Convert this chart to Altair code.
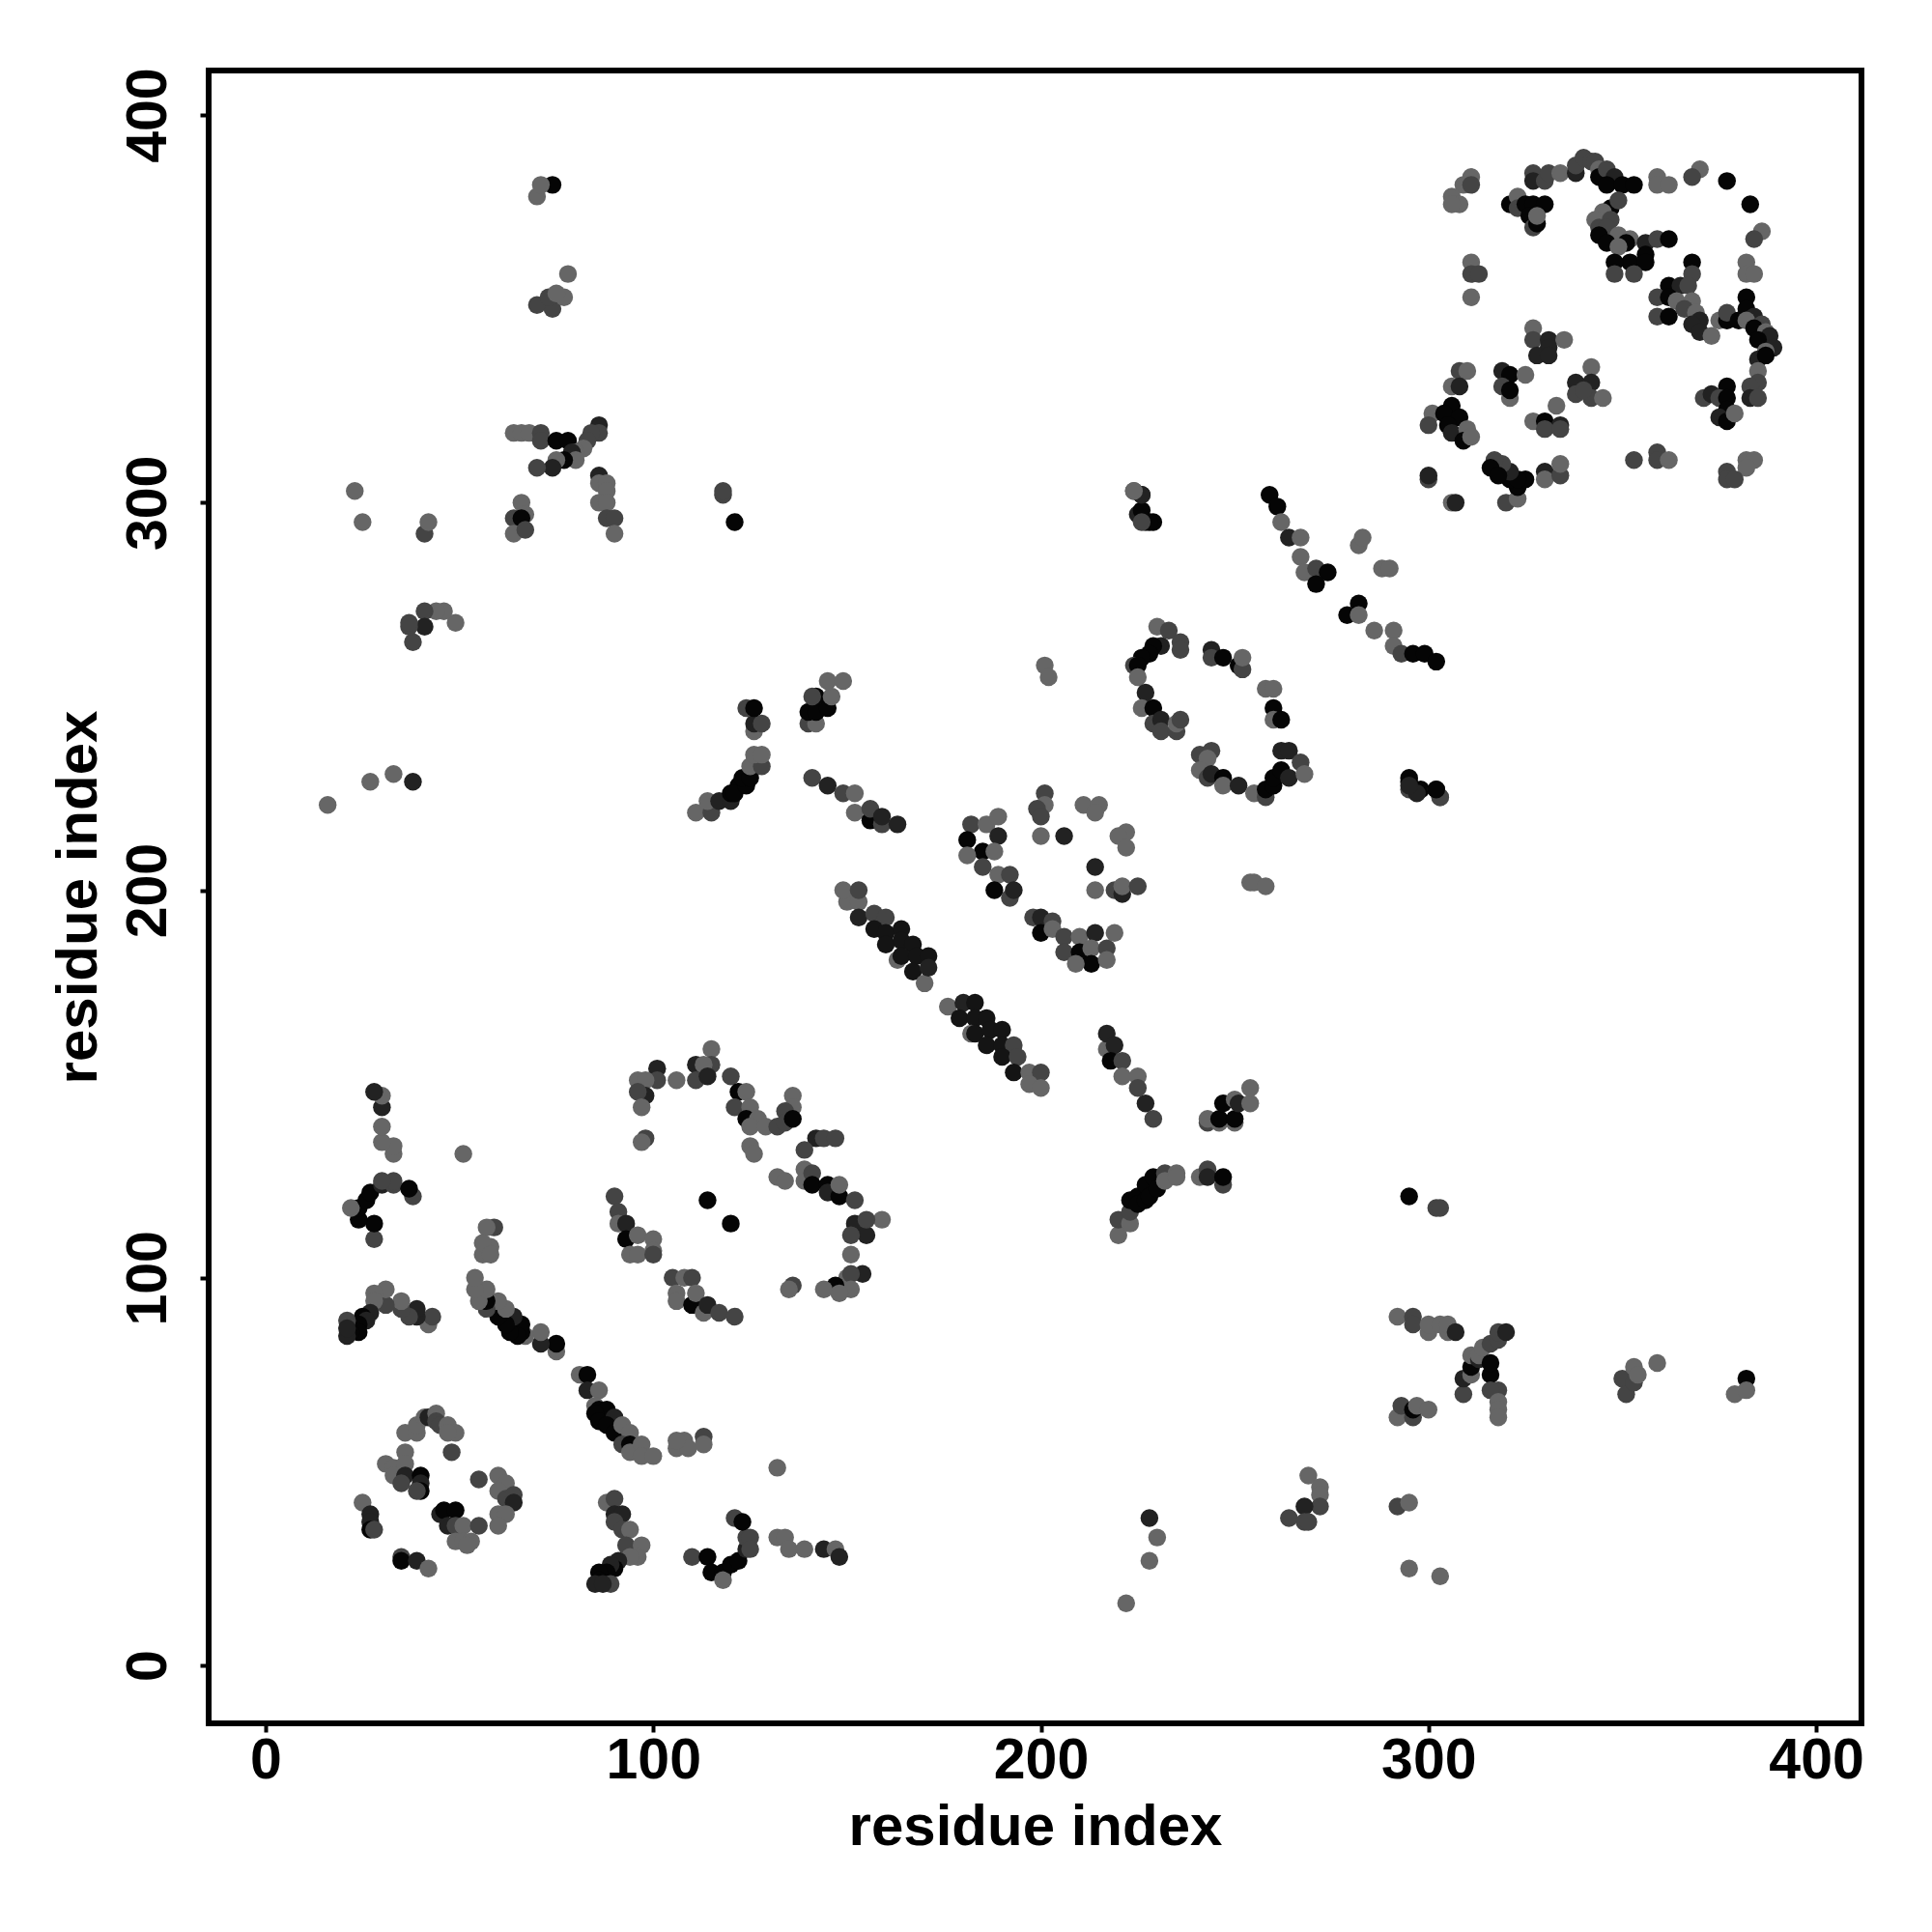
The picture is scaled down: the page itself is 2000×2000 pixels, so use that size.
import altair as alt
import pandas as pd

# (residue x, residue y, grey level)
ring_a = [(25,42,3),(27,39,1),(27,37,1),(27,35,0),(28,35,2),(35,28,2),(35,27,0),(39,27,1),(42,25,3),
 (36,55,3),(48,55,2),(36,60,3),(39,60,3),(39,62,3),(41,64,3),(42,64,1),(44,65,3),(44,63,2),(45,62,2),(47,62,3),
 (49,60,3),(47,60,3),(31,52,3),(33,51,3),(33,49,3),(36,52,3),(36,49,1),(35,47,2),(40,49,0),(40,47,1),(40,45,0),(39,45,2),
 (55,48,2),(60,49,3),(62,47,3),(60,45,3),(62,43,2),(64,44,2),(64,42,1),(60,39,3),(62,39,3),(60,36,3),
 (45,39,1),(46,40,0),(49,40,0),(47,36,1),(49,36,2),(51,36,3),(55,36,2),(49,32,3),(51,32,3),(53,32,3),(52,31,3)]

ring_b = [(115,159,3),(111,155,1),(115,155,2),(113,155,3),(101,154,1),(120,152,2),(96,151,3),(101,151,2),(98,151,3),(106,151,3),
 (111,151,2),(114,152,1),(122,148,0),(124,148,3),(98,147,1),(96,148,2),(97,144,3),(136,147,3),(136,144,3),(134,143,2),(121,144,2),
 (125,144,3),(124,141,0),(127,141,3),(125,139,3),(129,139,3),(132,139,2),(134,140,2),(136,141,0),(98,136,2),(97,135,3),(125,134,3),
 (126,132,3),(132,126,3),(134,125,3),(142,136,1),(144,136,2),(147,136,2),(139,133,2),(139,128,3),(139,125,3),(141,127,2),(141,124,0),
 (145,124,0),(145,122,1),(148,121,0),(148,124,3),(152,120,2),(159,115,3),(152,114,1),(155,111,1),(155,115,2),(151,111,2),(151,106,3),
 (150,100,3),(154,101,1),(151,101,2),(151,97,3),(147,98,0),(148,96,3),(144,97,3),(136,98,2),(135,97,3),(90,121,2),(91,117,2),
 (91,114,3),(93,114,1),(93,110,0),(96,111,3),(100,110,3),(100,107,3),(94,106,3),(96,106,3),(100,106,2),(105,100,2),(108,100,3),(110,100,2),
 (106,96,3),(106,94,3),(110,93,0),(111,96,3),(113,91,3),(114,93,1),(117,91,2),(121,90,2),(114,120,0),(120,114,0)]

ring_c = [(201,258,3),(202,255,3),(201,225,2),(201,222,3),(199,221,2),(200,219,2),(211,222,3),(215,222,3),(214,220,3),(222,215,3),
 (220,214,3),(222,211,3),(200,214,3),(206,214,1),(214,206,1),(214,200,3),(219,200,2),(221,199,1),(221,201,3),(225,201,2),
 (182,217,2),(186,217,3),(189,219,3),(181,213,0),(189,214,1),(185,210,0),(181,209,3),(188,210,3),(185,206,2),(189,204,3),(192,204,2),
 (188,200,0),(192,198,2),(193,200,1),(198,193,2),(200,193,1),(203,192,2),(200,189,0),(203,190,3),(206,188,2),(206,184,2),(210,188,3),
 (214,189,1),(219,189,3),(210,184,0),(213,185,3),(217,185,2),(213,181,0),(209,181,3),(217,182,3)]

ring_d = [(230,268,3),(233,267,2),(236,264,2),(236,262,2),(231,263,1),(229,263,0),(228,261,0),(226,260,0),(224,258,2),(225,258,0),(225,255,3),
 (227,251,1),(226,247,3),(229,247,0),(229,243,2),(231,244,1),(231,241,2),(235,241,2),(235,243,3),(236,244,2),(244,262,1),(244,260,2),
 (247,260,0),(251,258,0),(252,257,2),(252,260,3),(258,252,3),(260,252,3),(260,247,0),(260,244,3),(262,244,0),(241,235,2),(244,236,2),(243,234,3),
 (241,231,3),(243,229,2),(244,230,1),(247,229,0),(247,227,3),(251,227,1),(255,225,3),(258,224,2),(258,226,0),(260,227,0),(260,229,0),(262,231,0),
 (264,229,1),(262,236,1),(264,236,1),(267,233,2),(268,230,3),(254,202,3),(255,202,3),(258,201,3)]

ring_e = [(311,384,3),(309,382,3),(311,382,2),(306,379,3),(308,377,3),(306,377,3),(311,362,3),(311,359,2),(313,359,2),(311,353,3),
 (327,385,2),(327,383,1),(330,383,2),(331,385,2),(334,385,3),(338,385,1),(338,387,2),(340,389,2),(342,388,2),(343,388,2),(344,386,3),(344,384,0),(346,386,2),
 (348,384,1),(346,382,0),(350,382,0),(353,382,0),(359,384,3),(359,382,3),(362,382,3),(370,386,3),(368,384,2),(377,383,0),(383,377,0),(386,370,3),(384,368,2),
 (321,377,0),(323,379,3),(323,376,2),(325,377,0),(327,377,0),(330,377,0),(326,374,0),(327,371,2),(328,372,0),(328,374,3),
 (347,376,0),(349,378,2),(345,375,3),(343,373,3),(347,373,2),(344,371,2),(346,371,2),(344,369,0),(349,369,3),(346,367,0),(352,368,3),(351,367,0),(349,366,3),
 (356,367,1),(359,368,2),(362,368,0),(356,364,0),(352,362,0),(348,362,0),(356,362,0),(348,359,2),(353,359,2),(382,362,3),(382,359,3),(384,359,3),
 (368,362,0),(368,359,2),(362,356,0),(365,356,1),(367,356,2),(359,353,2),(362,353,0),(364,352,3),(368,352,3),(366,350,2),(359,348,2),(362,348,0),(369,349,3),
 (370,347,1),(368,346,1),(370,344,1),(373,343,3),(375,347,3),(377,347,0),(377,349,2),(382,353,0),(382,350,0),(380,347,0),(384,348,1),(382,347,3),(386,346,2),
 (384,345,0),(387,344,3),(388,343,1),(385,342,0),(389,340,1),(387,339,3),(385,337,1),(387,338,0),(385,334,3),(385,331,2),(383,330,2),(383,327,1),(385,327,2),
 (327,345,3),(327,342,2),(331,342,1),(335,342,3),(331,340,1),(328,338,1),(331,338,1),(342,335,3),(338,331,1),(342,331,1),(338,328,2),(342,327,2),(345,327,3),(340,329,2),
 (308,334,2),(310,334,3),(306,330,3),(308,330,1),(319,334,1),(321,333,0),(319,330,2),(321,327,3),(321,329,0),(325,333,3),(333,325,3),(327,321,3),(330,321,0),(334,320,1),
 (330,319,2),(334,319,2),(377,330,0),(371,327,2),(373,328,1),(375,327,2),(377,327,0),(377,324,0),(375,322,1),(377,321,0),(379,323,3),
 (301,323,3),(306,325,0),(304,323,0),(300,320,2),(308,322,0),(305,320,0),(306,318,1),(310,319,3),(309,316,0),(311,317,3),
 (300,306,2),(300,307,1),(306,300,3),(307,300,1),(320,300,2),(323,301,3),(323,304,0),(325,306,0),(321,306,0),(323,306,0),(321,308,1),(319,310,2),(317,311,2),(316,309,0),(318,307,0),
 (330,308,1),(330,306,3),(334,307,2),(334,310,3),(353,311,2),(359,313,2),(359,311,2),(362,311,3),(382,311,3),(384,311,3),(382,309,3),(377,308,2),(377,306,2),(379,306,2)]

sheet_main = [(150,197,3),(149,200,3),(153,197,3),(153,200,2),(153,193,1),(157,194,2),(160,193,2),(157,190,4),(160,189,4),(164,190,4),(160,186,4),(164,187,4),(167,186,4),
 (163,182,3),(164,183,4),(168,183,4),(171,183,4),(167,179,4),(170,176,3),(171,180,1),(176,170,3),(180,171,1),(183,171,4),(179,167,4),(183,167,4),(186,167,4),
 (182,163,3),(183,163,4),(187,164,4),(190,164,4),(186,160,4),(190,160,4),(193,160,2),(190,157,4),(194,157,2),(193,153,4),(197,153,3),(200,153,2),(197,150,3),(200,149,3)]

sheet_d = [(259,302,0),(261,299,0),(262,295,3),(264,291,1),(267,291,3),(267,286,3),(268,282,3),(271,283,2),(274,282,0),(271,279,0),(279,271,0),(282,274,0),(282,271,3),(286,267,3),
 (282,289,3),(283,291,3),(288,283,3),(290,283,3),(291,267,3),(291,263,3),(293,261,2),(296,261,0),(299,261,0),(302,259,0)]

# off-diagonal clusters, lower triangle
low_a = [(88,42,3),(90,43,2),(90,39,1),(92,39,1),(90,37,2),(92,35,2),(94,35,3),(93,31,2),(97,31,3),(96,28,3),(94,28,3),(91,27,1),(90,25,0),(89,26,1),(88,24,0),(86,24,0),(86,22,0),(85,21,1),(89,21,2),(87,21,1)]
low_b = [(81,75,3),(83,75,0),(83,71,1),(86,71,3),(85,67,3),(86,66,0),(88,66,0),(85,65,0),(86,63,0),(90,64,1),(88,62,0),(90,60,0),(92,62,3),(94,60,3),(92,57,2),(94,57,0),(94,55,3),(97,57,3),(97,54,3),(100,54,3)]
low_c = [(106,56,3),(108,58,3),(113,59,2),(113,57,3),(109,56,3),(106,58,3)]
low_d = [(110,28,2),(114,28,0),(115,24,0),(118,24,0),(118,22,3),(120,26,0),(122,27,0),(124,30,1),(124,33,2),(121,38,2),(123,37,0),(125,33,2),(125,30,2),(132,51,3),(132,33,3),(134,33,3),(135,30,3),(139,30,3),(144,30,1),(147,30,3),(148,28,1)]
low_e = [(217,159,3),(217,163,1),(219,160,1),(218,156,0),(221,156,2),(221,152,3),(225,152,3),(225,149,2),(227,145,1),(229,141,2)]
low_f = [(220,111,3),(220,115,2),(223,114,3),(223,117,2),(223,120,0),(225,121,0),(225,119,0),(227,124,0),(227,120,0),(228,121,0),(229,126,0),(230,123,0),(232,127,2),(232,125,3),(235,127,3),(235,126,3),(241,126,3),(243,128,2),(243,126,1),(247,124,2),(247,126,0)]
low_h = [(224,303,2),(226,302,0),(225,297,1),(229,295,0),(227,295,1),(295,228,0),(298,226,0),(302,226,1),(303,224,3),(295,226,2)]
low_i = [(295,121,0),(302,118,2),(303,118,2),(222,16,3),(228,38,1),(230,33,3),(228,27,3),(269,49,3),(272,46,3),(272,44,3),(272,41,2),(268,41,1),(264,38,2),(268,37,2),(269,37,2),
 (292,41,2),(295,42,3),(295,25,3),(303,23,3)]
low_j = [(292,64,3),(293,67,2),(296,64,2),(296,66,0),(297,67,3),(300,66,3),(292,90,3),(296,90,2),(296,88,2),(300,86,3),(300,88,3),(303,88,3),(305,86,3),(305,88,3),(307,86,1),(309,70,2),(309,74,1),
 (311,75,3),(311,77,0),(311,80,3),(313,79,1),(313,80,3),(314,82,3),(316,83,2),(316,75,0),(316,78,0),(318,84,2),(318,86,2),(320,86,1),(318,71,2),(316,71,2),(318,68,3),(318,66,3),(318,64,3)]
low_k = [(350,74,2),(351,70,2),(353,77,3),(353,73,2),(359,78,3),(354,75,3),(379,70,3),(382,74,0),(382,71,3)]
low_l = [(243,140,2),(246,140,3),(250,140,3),(243,141,3),(246,141,0),(250,141,0),(247,145,0),(250,146,3),(251,145,1),(254,145,3),(254,149,3)]

# the same contacts, upper triangle
up_a = [(42,88,3),(43,90,2),(39,90,1),(39,92,1),(37,90,2),(35,92,2),(35,94,3),(31,93,2),(31,97,3),(28,96,3),(28,94,3),(27,91,1),(25,90,0),(26,89,1),(24,88,0),(24,86,0),(22,86,0),(21,85,1),(21,89,2),(21,87,1)]
up_b = [(75,81,3),(75,83,0),(71,83,1),(71,86,3),(67,85,3),(66,86,0),(66,88,0),(65,85,0),(63,86,0),(64,90,1),(62,88,0),(60,90,0),(62,92,3),(60,94,3),(57,92,2),(57,94,0),(55,94,3),(57,97,3),(54,97,3),(54,100,3)]
up_c = [(56,106,3),(58,108,3),(59,113,2),(57,113,3),(56,109,3),(58,106,3)]
up_d = [(28,110,2),(28,114,0),(24,115,0),(24,118,0),(22,118,3),(26,120,0),(27,122,0),(30,124,1),(33,124,2),(38,121,2),(37,123,0),(33,125,2),(30,125,2),(51,132,3),(33,132,3),(33,134,3),(30,135,3),(30,139,3),(30,144,1),(30,147,3),(28,148,1)]
up_e = [(141,229,2),(145,227,1),(149,225,2),(152,225,3),(152,220,3),(156,218,0),(156,221,2),(159,217,2),(159,219,1),(163,217,1)]
up_f = [(111,220,3),(115,220,2),(114,223,3),(117,223,1),(120,223,1),(120,225,0),(122,227,0),(121,225,0),(124,227,0),(123,229,0),(125,229,0),(125,232,3),(128,232,2),(126,235,3),(128,235,3),(126,241,3),(126,243,1),(128,243,2),(124,247,2),(126,247,0)]
up_h = [(303,224,2),(302,226,0),(297,225,1),(295,229,0),(295,227,1),(228,295,0),(226,298,0),(226,302,1),(224,303,3),(226,295,2)]
up_i = [(121,295,0),(118,302,2),(118,303,2),(16,222,3),(38,228,1),(33,230,3),(27,228,3),(49,269,3),(46,272,3),(44,272,3),(41,272,2),(41,268,1),(38,264,2),(37,268,2),(37,269,2),
 (41,292,2),(42,295,3),(25,295,3),(23,303,3)]
up_j = [(64,318,3),(66,318,3),(68,318,3),(71,318,2),(71,316,2),(75,316,0),(78,316,0),(86,320,1),(86,318,2),(84,318,2),(83,316,2),(82,314,3),(80,313,3),(79,313,1),(80,311,3),(77,311,0),(75,311,3),(74,309,1),(70,309,2),
 (86,307,1),(86,305,3),(88,305,3),(88,303,3),(86,300,3),(88,300,3),(88,296,2),(90,296,2),(90,292,3),(66,300,3),(67,297,3),(64,296,2),(66,296,0),(64,292,3),(67,293,2)]
up_k = [(74,350,2),(70,351,2),(77,353,3),(73,353,2),(78,359,3),(75,354,3),(70,379,3),(74,382,0),(71,382,3)]
up_l = [(140,243,2),(142,243,3),(140,246,0),(142,246,0),(145,247,0),(142,250,0),(141,250,2),(146,250,3),(145,254,3),(149,254,3)]

clusters = [ring_a, ring_b, ring_c, ring_d, ring_e, sheet_main, sheet_d,
            low_a, low_b, low_c, low_d, low_e, low_f, low_h, low_i, low_j, low_k, low_l,
            up_a, up_b, up_c, up_d, up_e, up_f, up_h, up_i, up_j, up_k, up_l]
levels = [0, 1, 2, 3, 4]
greys = ["#050505", "#222222", "#444444", "#666666", "#141414"]
ticks = [0, 100, 200, 300, 400]

rows = [p for c in clusters for p in c]
df = pd.DataFrame(rows, columns=["x", "y", "level"])

font = "Liberation Sans"

def axis(**kw):
    return alt.Axis(values=ticks, grid=False, domain=False, tickColor="black", tickWidth=4, tickSize=9,
                    labelFont=font, labelFontSize=59, labelFontWeight="bold", labelColor="black",
                    titleFont=font, titleFontSize=60, titleFontWeight="bold", titleColor="black",
                    labelBaseline="alphabetic", titleBaseline="alphabetic", titleAlign="center",
                    labelOverlap=False, labelFlush=False, title="residue index", **kw)

chart = alt.Chart(df).mark_circle(size=340, opacity=1).encode(
    x=alt.X("x:Q", scale=alt.Scale(domain=[-14.7, 411.7], nice=False, zero=False),
            axis=axis(labelPadding=47, titleX=855.5, titleY=125)),
    y=alt.Y("y:Q", scale=alt.Scale(domain=[-14.95, 411.5], nice=False, zero=False),
            axis=axis(labelPadding=36, labelAngle=270, labelAlign="center", titleAngle=270, titleX=-116.5, titleY=855.5)),
    color=alt.Color("level:O", scale=alt.Scale(domain=levels, range=greys), legend=None),
).properties(
    width=1711, height=1711, autosize=alt.AutoSizeParams(type="none"),
    padding={"left": 208, "top": 65, "right": 60, "bottom": 200},
).configure_view(stroke="black", strokeWidth=6)

chart.save("out.html", embed_options={"renderer": "svg", "actions": False})
